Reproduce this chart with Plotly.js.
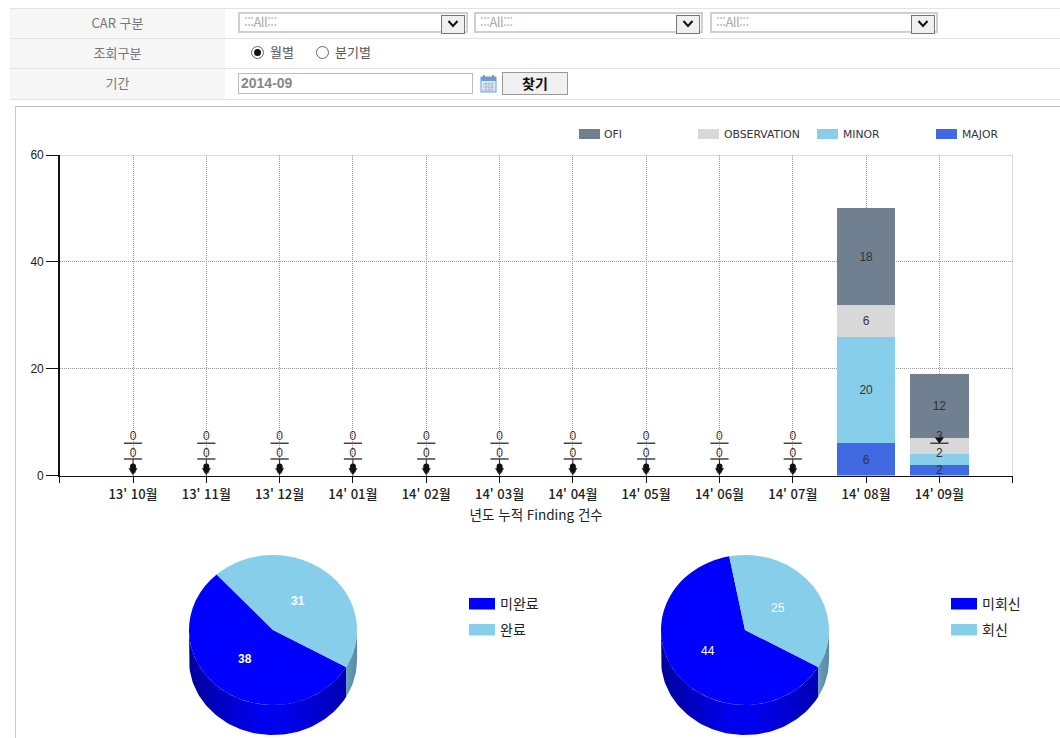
<!DOCTYPE html>
<html lang="ko"><head><meta charset="utf-8">
<script src="https://cdn.plot.ly/plotly-3.0.1.min.js"></script>
<style>
html,body{margin:0;padding:0;background:#fff;width:1060px;height:738px;overflow:hidden;font-family:"Noto Sans CJK KR",sans-serif}
#chart{position:absolute;left:0;top:0;width:1060px;height:738px}
#form{position:absolute;left:0;top:0;width:1060px;height:106px;z-index:2;pointer-events:none}
.a{position:absolute;box-sizing:border-box}
.head{left:10px;width:215px;background:#f6f6f6;color:#777;font-size:13px;text-align:center;line-height:28px;height:30px}
.rule{left:10px;width:1050px;height:1px;background:#e3e3e3}
.sel{top:12px;height:21px;border:2px solid #cfcfcf;background:#fff;color:#aaa;font-size:13px;line-height:16px;padding-left:4px;letter-spacing:-.5px}
.btn{top:1px;right:1px;width:22px;height:17px;border:1px solid #777;background:#f0f0f0;position:absolute}
.btn svg{display:block;margin:3px auto 0}
.radio{width:13px;height:13px;border:1px solid #666;border-radius:50%;top:46px;background:#fff}
.radio i{position:absolute;left:2px;top:2px;width:7px;height:7px;border-radius:50%;background:#111}
.rl{top:43px;font-size:13px;color:#555;line-height:18px}
</style></head><body>
<div id="chart"></div>
<div id="form">
  <div class="a rule" style="top:8px"></div>
  <div class="a head" style="top:9px">CAR 구분</div>
  <div class="a rule" style="top:38px"></div>
  <div class="a head" style="top:39px">조회구분</div>
  <div class="a rule" style="top:68px"></div>
  <div class="a head" style="top:69px">기간</div>
  <div class="a rule" style="top:99px"></div>
  <div class="a sel" style="left:238px;width:230px">:::All:::<div class="btn"><svg width="12" height="9"><path d="M1.5 2 L6 7 L10.5 2" fill="none" stroke="#111" stroke-width="2"/></svg></div></div>
  <div class="a sel" style="left:474px;width:229px">:::All:::<div class="btn"><svg width="12" height="9"><path d="M1.5 2 L6 7 L10.5 2" fill="none" stroke="#111" stroke-width="2"/></svg></div></div>
  <div class="a sel" style="left:710px;width:228px">:::All:::<div class="btn"><svg width="12" height="9"><path d="M1.5 2 L6 7 L10.5 2" fill="none" stroke="#111" stroke-width="2"/></svg></div></div>
  <div class="a radio" style="left:251px"><i></i></div><div class="a rl" style="left:270px">월별</div>
  <div class="a radio" style="left:316px"></div><div class="a rl" style="left:335px">분기별</div>
  <div class="a" style="left:238px;top:73px;width:235px;height:21px;border:1px solid #bbb;background:#fff;color:#888;font:bold 14px/19px 'Liberation Sans',sans-serif;padding-left:2px">2014-09</div>
  <svg class="a" style="left:480px;top:74px" width="17" height="19"><rect x="1" y="3" width="15" height="15" fill="#dfe9f5" stroke="#6f9bd1"/><rect x="1" y="3" width="15" height="4" fill="#6f9bd1"/><path d="M4 1v4M13 1v4" stroke="#6f9bd1" stroke-width="2"/><path d="M3 10h11M3 13h11M3 16h11M6 8v9M9 8v9M12 8v9" stroke="#9ab" stroke-width=".7"/></svg>
  <div class="a" style="left:502px;top:72px;width:66px;height:23px;border:1px solid #999;background:#f0f0f0;color:#111;font-weight:700;font-size:14px;line-height:21px;text-align:center">찾기</div>
</div>
<script>
var categories = ["13' 10월","13' 11월","13' 12월","14' 01월","14' 02월","14' 03월","14' 04월","14' 05월","14' 06월","14' 07월","14' 08월","14' 09월"];
var major       = [0,0,0,0,0,0,0,0,0,0,6,2];
var minor       = [0,0,0,0,0,0,0,0,0,0,20,2];
var observation = [0,0,0,0,0,0,0,0,0,0,6,3];
var ofi         = [0,0,0,0,0,0,0,0,0,0,18,12];
var seriesNames = ["MAJOR","MINOR","OBSERVATION","OFI"];
var seriesColors = ["#4169e1","#87ceeb","#d8d8d8","#708090"];
var yTicks = [0,20,40,60];
var pie1Labels = ["미완료","완료"], pie1Values = [38,31];
var pie2Labels = ["미회신","회신"], pie2Values = [44,25];
var pieColors = ["#0000ff","#87ceeb"];
var xAxisTitle = "년도 누적 Finding 건수";

var W=1060,H=738;
function px(x){return x/W} function py(y){return 1-y/H}
var xs = categories.map(function(_,i){return i+1});
var seriesValues=[major,minor,observation,ofi];
var traces=[];
seriesValues.forEach(function(v,s){
  traces.push({type:'bar',x:xs,y:v,name:seriesNames[s],width:0.8,marker:{color:seriesColors[s],line:{width:0}},hoverinfo:'skip',showlegend:false});
});
// value labels, pushed apart when segments are too short to hold them
var lx=[],ly=[],lt=[];
xs.forEach(function(x,i){
  var base=0,prev=-2.05;
  seriesValues.forEach(function(v,s){
    var val=v[i],mid=base+val/2;
    var y=Math.max(mid,prev+3.15);
    base+=val;prev=y;
    if(val===0&&s===3)return;
    lx.push(x);ly.push(y-0.25);lt.push(String(val));
  });
});
// leader marks of the zero and crowded labels
var dashX=[],dashY=[],stemX=[],stemY=[],tipX=[],tipY=[],dotX=[],dotY=[];
xs.forEach(function(x,i){
  var total=major[i]+minor[i]+observation[i]+ofi[i];
  if(total===0){
    dashX.push(x,x);dashY.push(3.1,6.05);
    stemX.push(x,x,null);stemY.push(0,3.1,null);
    tipX.push(x);tipY.push(1.0);dotX.push(x);dotY.push(1.7);
  }else if(total<25){
    dashX.push(x);dashY.push(6.05);
    stemX.push(x,x,null);stemY.push(6.05,7,null);
    tipX.push(x);tipY.push(6.75);
  }
});
traces.push({type:'scatter',mode:'lines',x:stemX,y:stemY,line:{color:'#222',width:1},hoverinfo:'skip',showlegend:false,connectgaps:false});
traces.push({type:'scatter',mode:'text',x:lx,y:ly,text:lt,textposition:'middle center',textfont:{family:'Liberation Sans, Arial, sans-serif',size:12,color:'#333'},hoverinfo:'skip',showlegend:false});
traces.push({type:'scatter',mode:'markers',x:dashX,y:dashY,marker:{symbol:'line-ew',size:13,line:{color:'#444',width:1.4}},hoverinfo:'skip',showlegend:false});
traces.push({type:'scatter',mode:'markers',x:dotX,y:dotY,marker:{symbol:'circle',size:6,color:'#111'},hoverinfo:'skip',showlegend:false});
traces.push({type:'scatter',mode:'markers',x:tipX,y:tipY,marker:{symbol:'triangle-down',size:8,color:'#111'},hoverinfo:'skip',showlegend:false});

// pies
var rx=84,ry=75,depth=30,cy=630,startAngle=119.6;
var sideColors=[
 [[0,'#00009c'],[0.45,'#0000f0'],[0.6,'#0000ee'],[1,'#0000b4']],
 [[0,'#6a9fb8'],[1,'#568aa2']]
];
function addPie(cx,labels,values,labelPos,bold){
  var total=values[0]+values[1],a=startAngle;
  values.forEach(function(v,k){
    var b=a+v/total*360;
    [0,-360].forEach(function(wrap){
      var from=Math.max(a+wrap,90),to=Math.min(b+wrap,270);
      if(to>from){
        var tx=[],ty=[],bx=[],by=[];
        for(var t=from;;t+=2){
          var th=Math.min(t,to);
          var r=th*Math.PI/180;
          var X=cx+rx*Math.sin(r),Y=cy-ry*Math.cos(r);
          tx.push(X);ty.push(Y);bx.unshift(X);by.unshift(Y+depth);
          if(th>=to)break;
        }
        traces.push({type:'scatter',mode:'lines',xaxis:'x2',yaxis:'y2',x:tx.concat(bx),y:ty.concat(by),fill:'toself',
          fillcolor:pieColors[k],fillgradient:{type:'horizontal',colorscale:sideColors[k]},line:{width:0},hoverinfo:'skip',showlegend:false});
      }
    });
    a=b;
  });
  traces.push({type:'pie',labels:labels,values:values,sort:false,direction:'clockwise',rotation:startAngle,textinfo:'none',
    marker:{colors:pieColors,line:{width:0}},hoverinfo:'skip',showlegend:false,
    domain:{x:[px(cx-rx),px(cx+rx)],y:[py(cy+rx),py(cy-rx)]}});
  return labelPos.map(function(p,k){
    return {xref:'paper',yref:'paper',x:px(p[0]),y:py(p[1]),xanchor:'center',yanchor:'middle',text:bold?'<b>'+values[k]+'</b>':String(values[k]),showarrow:false,
      font:{family:'Liberation Sans, Arial, sans-serif',size:12,color:'#fff'}};
  });
}
var annotations=[];
annotations=annotations.concat(addPie(273,pie1Labels,pie1Values,[[245,659],[298,601]],true));
annotations=annotations.concat(addPie(745,pie2Labels,pie2Values,[[708,651],[778,608]],false));

// legends, frame and the dotted edge of the plot
var gridDot={color:'#777',width:1,dash:'1px,1px'};
var shapes=[
 {type:'line',xref:'paper',yref:'paper',x0:px(15.5),x1:px(15.5),y0:py(106),y1:py(738),line:{color:'#c8cad8',width:1}},
 {type:'line',xref:'paper',yref:'paper',x0:px(15),x1:px(1060),y0:py(106.5),y1:py(106.5),line:{color:'#b9bdd2',width:1}},
 {type:'line',xref:'x',yref:'y',x0:0,x1:13,y0:60,y1:60,line:gridDot,layer:'below'},
 {type:'line',xref:'x',yref:'y',x0:13,x1:13,y0:0,y1:60,line:gridDot,layer:'below'}
];
function swatch(x0,x1,y0,y1,c){shapes.push({type:'rect',xref:'paper',yref:'paper',x0:px(x0),x1:px(x1),y0:py(y0),y1:py(y1),fillcolor:c,line:{width:0}})}
function legText(x,y,t,size,color,fam){annotations.push({xref:'paper',yref:'paper',x:px(x),y:py(y),xanchor:'left',yanchor:'middle',text:t,showarrow:false,font:{family:fam,size:size,color:color}})}
var legX=[936,817,698,579],legT=[960,841,722,602];
seriesNames.forEach(function(n,s){
  swatch(legX[s],legX[s]+21,129,139,seriesColors[s]);
  legText(legT[s],134.5,n,10.8,'#333','DejaVu Sans, sans-serif');
});
[[469,498,pie1Labels],[951,980,pie2Labels]].forEach(function(c){
  c[2].forEach(function(t,k){
    swatch(c[0],c[0]+26,598+k*26,609.5+k*26,pieColors[k]);
    legText(c[1],603+k*26,t,14,'#222','Noto Sans CJK KR, sans-serif');
  });
});

var layout={
  width:W,height:H,margin:{l:0,r:0,t:0,b:0,pad:0},paper_bgcolor:'#fff',plot_bgcolor:'rgba(0,0,0,0)',
  barmode:'stack',showlegend:false,hovermode:false,
  xaxis:{domain:[px(59.7),px(1012.7)],range:[0,13],tickmode:'array',tickvals:[0].concat(xs,[13]),ticktext:[''].concat(categories,['']),
    ticks:'outside',ticklen:6,tickcolor:'#111',tickwidth:1,showline:true,linecolor:'#111',linewidth:1.5,
    showgrid:true,gridcolor:'#999',griddash:'1px,1px',gridwidth:1,zeroline:false,tickangle:0,
    tickfont:{family:'Noto Sans CJK KR, sans-serif',size:13,color:'#222',weight:500},
    title:{text:xAxisTitle,standoff:9,font:{family:'Noto Sans CJK KR, sans-serif',size:13.5,color:'#222'}},automargin:false,fixedrange:true},
  yaxis:{domain:[py(475.5),py(155)],range:[0,60],tickmode:'array',tickvals:yTicks,
    ticks:'outside',ticklen:12,tickcolor:'#111',tickwidth:1,showline:true,linecolor:'#111',linewidth:1.5,
    showgrid:true,gridcolor:'#999',griddash:'1px,1px',gridwidth:1,zeroline:false,
    tickfont:{family:'Liberation Sans, Arial, sans-serif',size:12,color:'#222'},automargin:false,fixedrange:true},
  xaxis2:{domain:[0,1],range:[0,W],visible:false,anchor:'y2',fixedrange:true},
  yaxis2:{domain:[0,1],range:[H,0],visible:false,anchor:'x2',fixedrange:true},
  shapes:shapes,annotations:annotations
};
Plotly.newPlot('chart',traces,layout,{displayModeBar:false,staticPlot:true}).then(function(gd){
  // tilt the pie faces into the ellipse of the 3D view
  gd.querySelectorAll('.pielayer .trace').forEach(function(g){
    g.setAttribute('transform','translate(0,'+cy+') scale(1,'+(ry/rx)+') translate(0,'+(-cy)+')');
  });
});
</script>
</body></html>
